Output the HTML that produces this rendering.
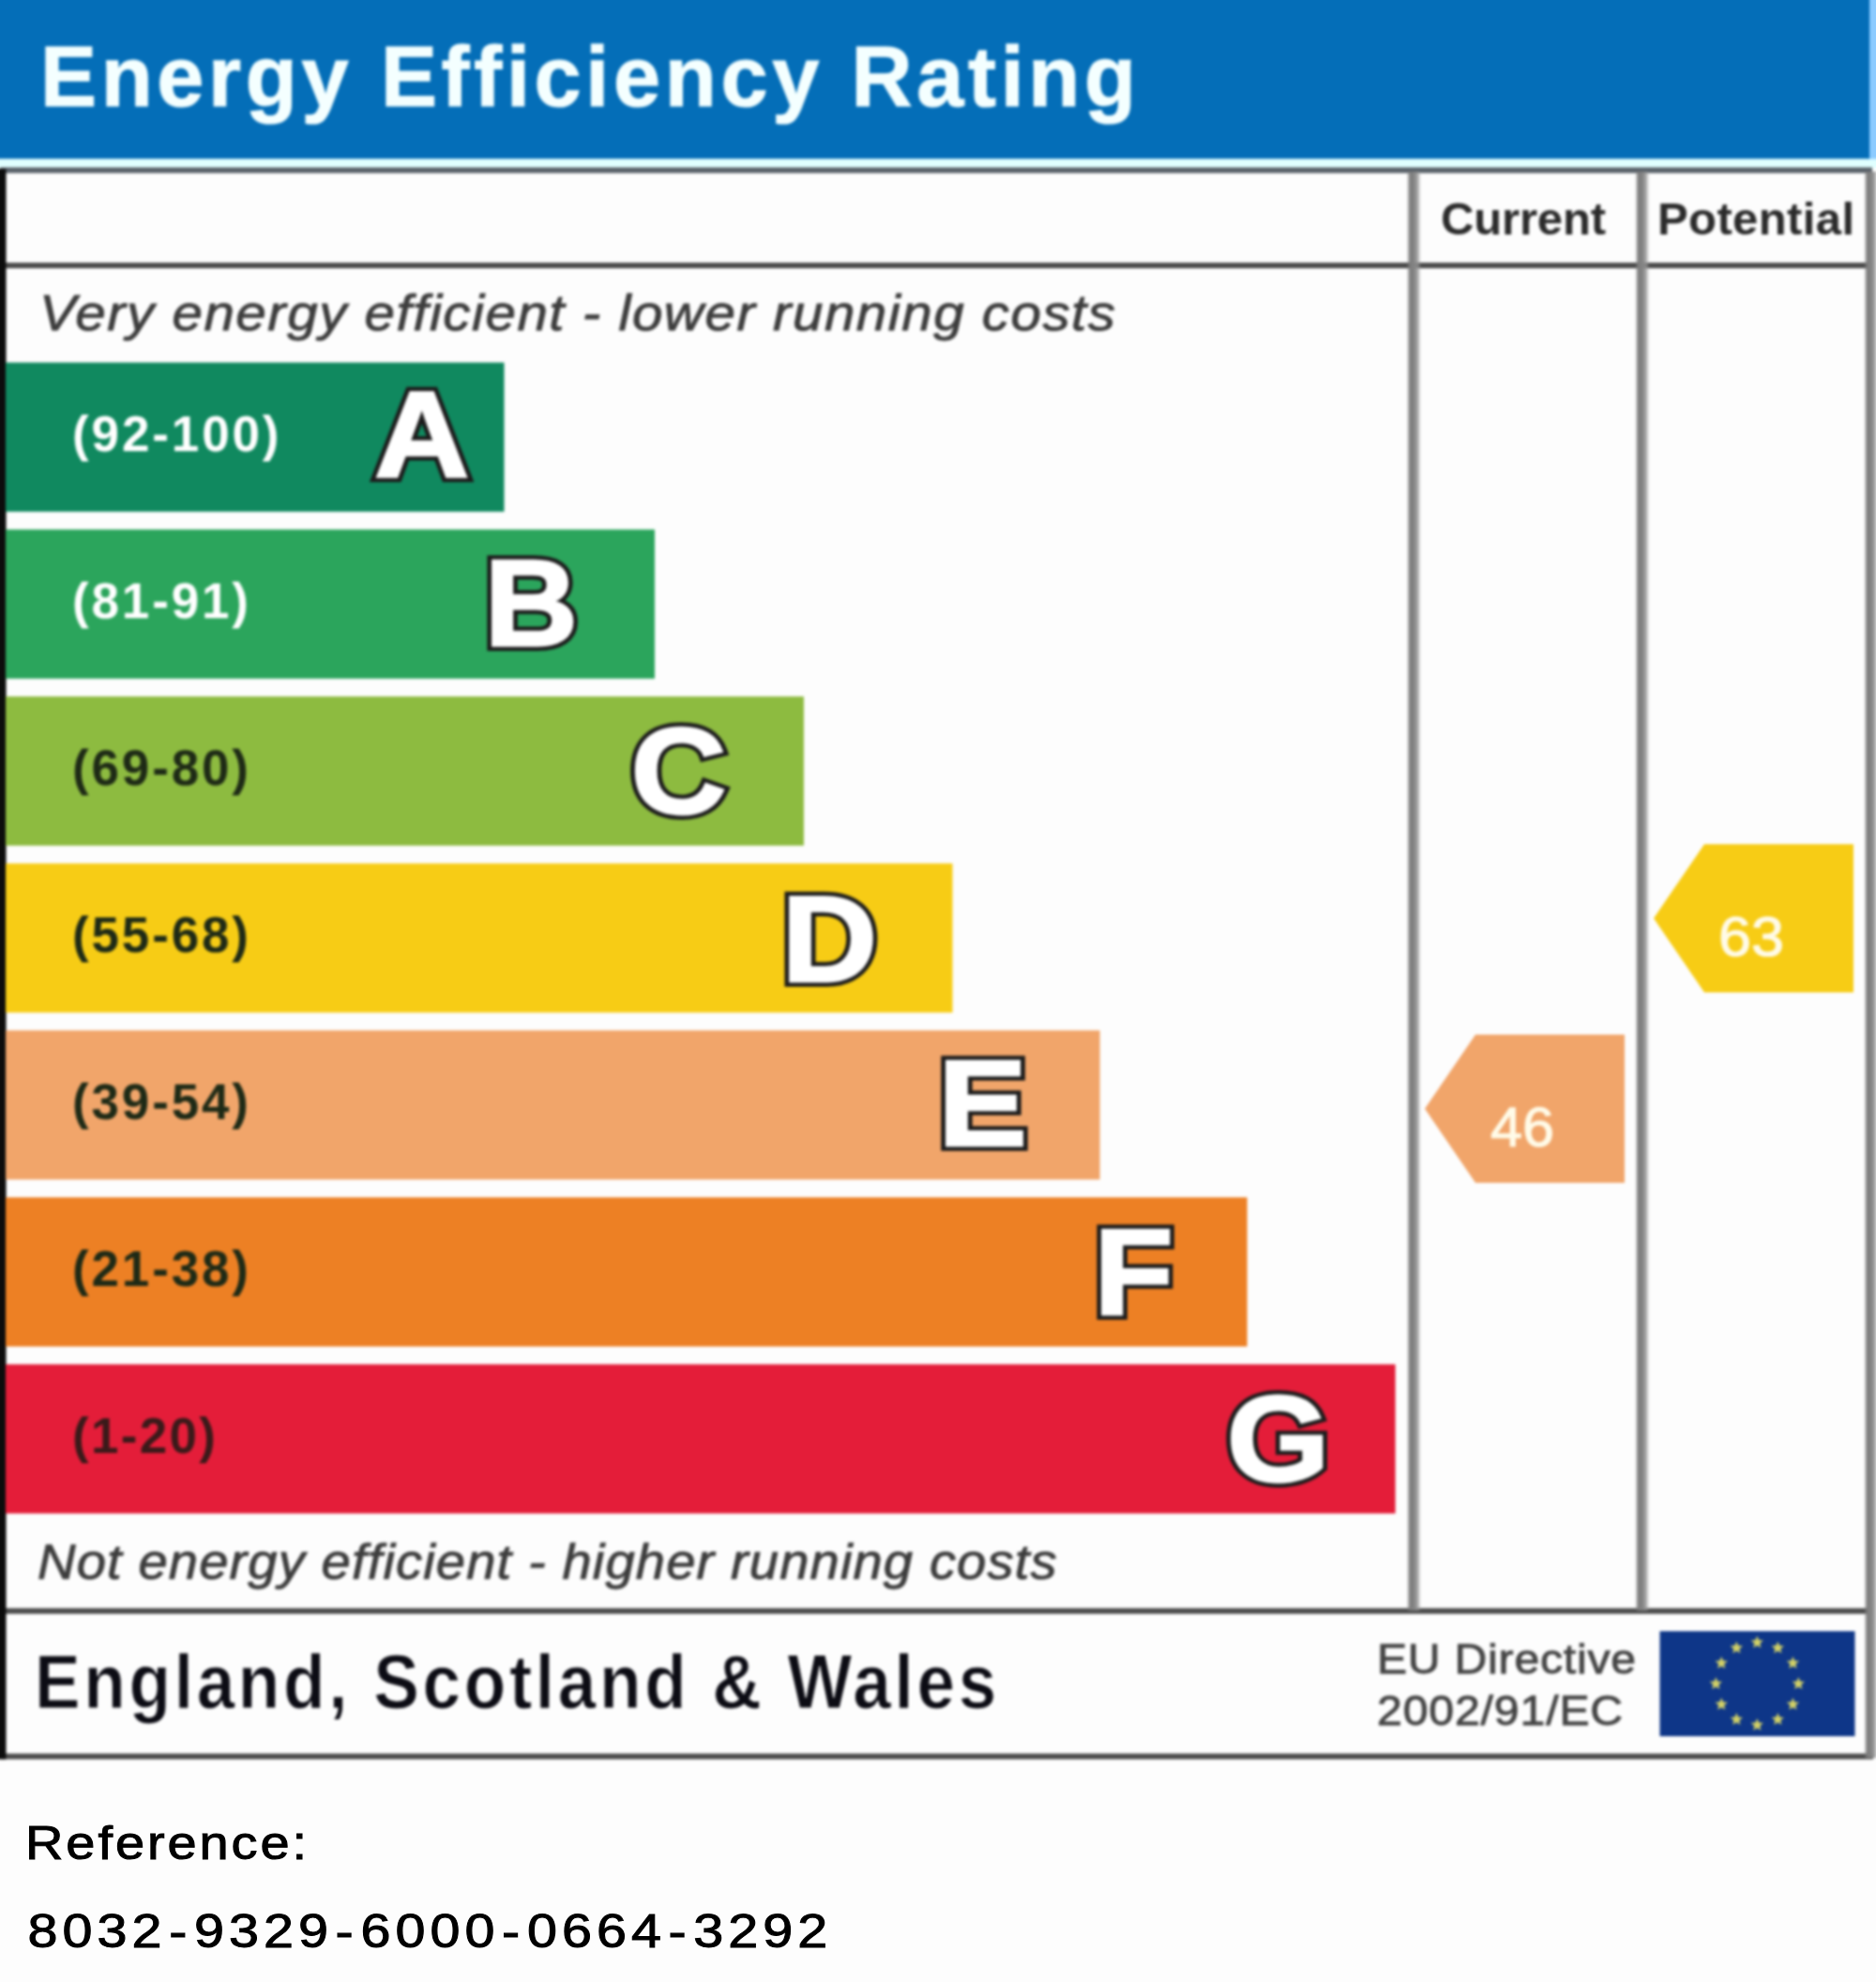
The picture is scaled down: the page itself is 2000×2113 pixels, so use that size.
<!DOCTYPE html>
<html lang="en"><head><meta charset="utf-8"><title>Energy Efficiency Rating</title>
<style>
html,body{margin:0;padding:0;background:#fdfdfd;}
body{width:2000px;height:2113px;overflow:hidden;}
svg{display:block;font-family:"Liberation Sans",sans-serif;}
.b{font-weight:bold;}
.i{font-style:italic;}
</style></head><body>
<svg width="2000" height="2113" viewBox="0 0 2000 2113">
<defs>
<linearGradient id="vl" x1="0" x2="1" y1="0" y2="0"><stop offset="0.05" stop-color="#808080" stop-opacity="0"/><stop offset="0.25" stop-color="#7c7c7c" stop-opacity="1"/><stop offset="0.55" stop-color="#848484" stop-opacity="1"/><stop offset="0.78" stop-color="#959595" stop-opacity="0.8"/><stop offset="1" stop-color="#aaaaaa" stop-opacity="0"/></linearGradient>
<filter id="soft" x="-2%" y="-2%" width="104%" height="104%" color-interpolation-filters="sRGB"><feGaussianBlur stdDeviation="1.7"/></filter>
<filter id="soft2" x="-2%" y="-20%" width="104%" height="140%" color-interpolation-filters="sRGB"><feGaussianBlur stdDeviation="0.7"/></filter>
</defs>
<g filter="url(#soft)">
<rect x="-20" y="-20" width="2040" height="2153" fill="#fdfdfd"/>
<!-- header -->
<rect x="1990" y="-20" width="30" height="192" fill="#8ccbff"/>
<rect x="-20" y="-20" width="2013" height="189.500" fill="#046eb8"/>
<rect x="-20" y="169.500" width="2040" height="9.500" fill="#e0ffff"/>
<text class="b" x="43" y="113" font-size="90" fill="#f4ffff" stroke="#f4ffff" stroke-width="1.2" textLength="1168" lengthAdjust="spacing">Energy Efficiency Rating</text>
<!-- frame -->
<rect x="0" y="178.500" width="1996" height="6" fill="#586068"/>
<rect x="0" y="280" width="1996" height="6" fill="#4a4a4a"/>
<rect x="0" y="1714.500" width="1996" height="6" fill="#4a4a4a"/>
<rect x="0" y="1869.500" width="1997" height="6" fill="#4a4a4a"/>
<rect x="-20" y="180" width="26.500" height="1695.500" fill="#0c0c0c"/>
<rect x="1499" y="183" width="16" height="1534" fill="url(#vl)"/>
<rect x="1742.500" y="183" width="16" height="1534" fill="url(#vl)"/>
<rect x="1986.500" y="183" width="16" height="1691" fill="url(#vl)"/>
<text class="b" x="1536" y="250" font-size="49" fill="#2b2b2b" textLength="176" lengthAdjust="spacing">Current</text>
<text class="b" x="1767" y="250" font-size="49" fill="#2b2b2b" textLength="210" lengthAdjust="spacing">Potential</text>
<text class="i" transform="translate(42 352) scale(1.08 1)" font-size="54" fill="#3d3d3d" stroke="#3d3d3d" stroke-width="0.9" textLength="1062" lengthAdjust="spacing">Very energy efficient - lower running costs</text>
<text class="i" transform="translate(40 1682.5) scale(1.08 1)" font-size="52" fill="#3d3d3d" stroke="#3d3d3d" stroke-width="0.9" textLength="1006" lengthAdjust="spacing">Not energy efficient - higher running costs</text>

<rect x="6" y="386.5" width="531.5" height="159" fill="#10895f"/>
<text class="b" x="77" y="480.5" font-size="53" fill="#fff" textLength="220.5" lengthAdjust="spacing">(92-100)</text>
<g transform="translate(449.7 508.0) scale(1.07 1)" text-anchor="middle" font-size="130" class="b" stroke-linejoin="miter" stroke-miterlimit="2.5"><text fill="none" stroke="#1c1c1c" stroke-width="12">A</text><text fill="#fff" stroke="#fff" stroke-width="3">A</text></g>
<rect x="6" y="564.5" width="692" height="159" fill="#2ba55c"/>
<text class="b" x="77" y="658.5" font-size="53" fill="#fff" textLength="188" lengthAdjust="spacing">(81-91)</text>
<g transform="translate(566.2 687.5) scale(1.06 1)" text-anchor="middle" font-size="130" class="b" stroke-linejoin="miter" stroke-miterlimit="2.5"><text fill="none" stroke="#1c1c1c" stroke-width="12">B</text><text fill="#fff" stroke="#fff" stroke-width="3">B</text></g>
<rect x="6" y="742.5" width="851" height="159" fill="#8dbb40"/>
<text class="b" x="77" y="836.5" font-size="53" fill="#1e2a16" textLength="188" lengthAdjust="spacing">(69-80)</text>
<g transform="translate(723.5 866.5) scale(1.08 1)" text-anchor="middle" font-size="130" class="b" stroke-linejoin="miter" stroke-miterlimit="2.5"><text fill="none" stroke="#1c1c1c" stroke-width="12">C</text><text fill="#fff" stroke="#fff" stroke-width="3">C</text></g>
<rect x="6" y="920.5" width="1009.5" height="159" fill="#f7cc15"/>
<text class="b" x="77" y="1014.5" font-size="53" fill="#1e2a16" textLength="188" lengthAdjust="spacing">(55-68)</text>
<g transform="translate(884.2 1046.0) scale(1.08 1)" text-anchor="middle" font-size="130" class="b" stroke-linejoin="miter" stroke-miterlimit="2.5"><text fill="none" stroke="#1c1c1c" stroke-width="12">D</text><text fill="#fff" stroke="#fff" stroke-width="3">D</text></g>
<rect x="6" y="1098.5" width="1166.6" height="159" fill="#f1a56a"/>
<text class="b" x="77" y="1192.5" font-size="53" fill="#1e2a16" textLength="188" lengthAdjust="spacing">(39-54)</text>
<g transform="translate(1047.5 1220.5) scale(1.09 1)" text-anchor="middle" font-size="130" class="b" stroke-linejoin="miter" stroke-miterlimit="2.5"><text fill="none" stroke="#1c1c1c" stroke-width="12">E</text><text fill="#fff" stroke="#fff" stroke-width="3">E</text></g>
<rect x="6" y="1276.5" width="1323.6" height="159" fill="#ed8024"/>
<text class="b" x="77" y="1370.5" font-size="53" fill="#1e2a16" textLength="188" lengthAdjust="spacing">(21-38)</text>
<g transform="translate(1208.5 1401.0) scale(1.06 1)" text-anchor="middle" font-size="130" class="b" stroke-linejoin="miter" stroke-miterlimit="2.5"><text fill="none" stroke="#1c1c1c" stroke-width="12">F</text><text fill="#fff" stroke="#fff" stroke-width="3">F</text></g>
<rect x="6" y="1454.5" width="1481.6" height="159" fill="#e41d39"/>
<text class="b" x="77" y="1548.5" font-size="53" fill="#3a1a1a" textLength="153" lengthAdjust="spacing">(1-20)</text>
<g transform="translate(1362.5 1578.5) scale(1.08 1)" text-anchor="middle" font-size="130" class="b" stroke-linejoin="miter" stroke-miterlimit="2.5"><text fill="none" stroke="#1c1c1c" stroke-width="12">G</text><text fill="#fff" stroke="#fff" stroke-width="3">G</text></g>
<!-- arrows -->
<polygon points="1519,1182 1573,1103 1732,1103 1732,1261 1573,1261" fill="#f1a56a"/>
<text x="1589" y="1221.500" font-size="60" fill="#fffbe8" stroke="#fffbe8" stroke-width="1.2" textLength="68" lengthAdjust="spacingAndGlyphs">46</text>
<polygon points="1763,979 1817,900 1976,900 1976,1058 1817,1058" fill="#f7cc15"/>
<text x="1832" y="1018.500" font-size="60" fill="#fffbe8" stroke="#fffbe8" stroke-width="1.2" textLength="70" lengthAdjust="spacingAndGlyphs">63</text>
<!-- footer -->
<text class="b" transform="translate(37 1821) scale(0.96 1.08)" font-size="76" fill="#0c0c14" stroke="#fdfdfd" stroke-width="1" textLength="1068" lengthAdjust="spacing">England, Scotland &amp; Wales</text>
<text transform="translate(1468 1784) scale(1.07 1)" font-size="45" fill="#444" stroke="#444" stroke-width="0.9" textLength="258" lengthAdjust="spacing">EU Directive</text>
<text transform="translate(1468 1839) scale(1.07 1)" font-size="45" fill="#444" stroke="#444" stroke-width="0.9" textLength="245" lengthAdjust="spacing">2002/91/EC</text>
<rect x="1769.500" y="1739" width="208" height="112" fill="#0e3688"/>

<polygon points="1873.3,1744.0 1875.2,1748.4 1880.0,1748.8 1876.3,1752.0 1877.4,1756.7 1873.3,1754.2 1869.2,1756.7 1870.3,1752.0 1866.6,1748.8 1871.4,1748.4" fill="#d2d166"/>
<polygon points="1895.3,1749.9 1897.2,1754.3 1902.0,1754.7 1898.3,1757.9 1899.4,1762.6 1895.3,1760.1 1891.2,1762.6 1892.3,1757.9 1888.6,1754.7 1893.4,1754.3" fill="#d2d166"/>
<polygon points="1911.4,1766.0 1913.3,1770.4 1918.1,1770.8 1914.4,1774.0 1915.5,1778.7 1911.4,1776.2 1907.3,1778.7 1908.4,1774.0 1904.7,1770.8 1909.5,1770.4" fill="#d2d166"/>
<polygon points="1917.3,1788.0 1919.2,1792.4 1924.0,1792.8 1920.3,1796.0 1921.4,1800.7 1917.3,1798.2 1913.2,1800.7 1914.3,1796.0 1910.6,1792.8 1915.4,1792.4" fill="#d2d166"/>
<polygon points="1911.4,1810.0 1913.3,1814.4 1918.1,1814.8 1914.4,1818.0 1915.5,1822.7 1911.4,1820.2 1907.3,1822.7 1908.4,1818.0 1904.7,1814.8 1909.5,1814.4" fill="#d2d166"/>
<polygon points="1895.3,1826.1 1897.2,1830.5 1902.0,1830.9 1898.3,1834.1 1899.4,1838.8 1895.3,1836.3 1891.2,1838.8 1892.3,1834.1 1888.6,1830.9 1893.4,1830.5" fill="#d2d166"/>
<polygon points="1873.3,1832.0 1875.2,1836.4 1880.0,1836.8 1876.3,1840.0 1877.4,1844.7 1873.3,1842.2 1869.2,1844.7 1870.3,1840.0 1866.6,1836.8 1871.4,1836.4" fill="#d2d166"/>
<polygon points="1851.3,1826.1 1853.2,1830.5 1858.0,1830.9 1854.3,1834.1 1855.4,1838.8 1851.3,1836.3 1847.2,1838.8 1848.3,1834.1 1844.6,1830.9 1849.4,1830.5" fill="#d2d166"/>
<polygon points="1835.2,1810.0 1837.1,1814.4 1841.9,1814.8 1838.2,1818.0 1839.3,1822.7 1835.2,1820.2 1831.1,1822.7 1832.2,1818.0 1828.5,1814.8 1833.3,1814.4" fill="#d2d166"/>
<polygon points="1829.3,1788.0 1831.2,1792.4 1836.0,1792.8 1832.3,1796.0 1833.4,1800.7 1829.3,1798.2 1825.2,1800.7 1826.3,1796.0 1822.6,1792.8 1827.4,1792.4" fill="#d2d166"/>
<polygon points="1835.2,1766.0 1837.1,1770.4 1841.9,1770.8 1838.2,1774.0 1839.3,1778.7 1835.2,1776.2 1831.1,1778.7 1832.2,1774.0 1828.5,1770.8 1833.3,1770.4" fill="#d2d166"/>
<polygon points="1851.3,1749.9 1853.2,1754.3 1858.0,1754.7 1854.3,1757.9 1855.4,1762.6 1851.3,1760.1 1847.2,1762.6 1848.3,1757.9 1844.6,1754.7 1849.4,1754.3" fill="#d2d166"/>
</g>
<g filter="url(#soft2)">
<text transform="translate(27 1981.5) scale(1.12 1)" font-size="50" fill="#000" stroke="#000" stroke-width="1" textLength="268" lengthAdjust="spacing">Reference:</text>
<text transform="translate(29.5 2076) scale(1.15 1)" font-size="50" fill="#000" stroke="#000" stroke-width="1" letter-spacing="4.37" dx="0 0 0 0 2.3 2.3 0 0 0 2.3 2.3 0 0 0 2.3 2.3 0 0 0 2.3 2.3 0 0 0">8032-9329-6000-0664-3292</text>
</g>
</svg>
</body></html>
